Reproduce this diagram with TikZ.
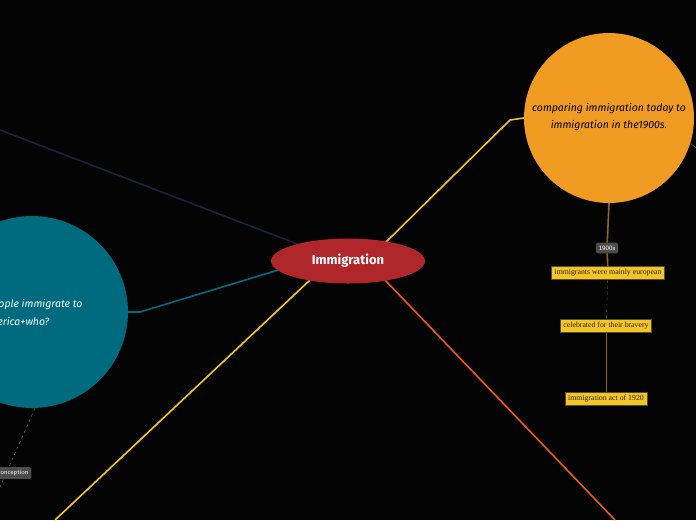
\documentclass[tikz,border=0pt]{standalone}
\usepackage{fontspec}
\usetikzlibrary{shapes.geometric}
\setmainfont{Liberation Serif}
\newfontfamily\hand{Fira Sans}
\begin{document}
\begin{tikzpicture}[x=1pt,y=-1pt,
  ybox/.style={draw=black!70,fill=yl,font=\fontsize{7.8}{9}\selectfont,inner sep=3pt,text=black!85},
  gbox/.style={fill=black!70,rounded corners=1.5pt,text=white!85,font=\sffamily\fontsize{6.5}{7}\selectfont,inner sep=3pt},
  link/.style={line width=1.6pt}]
\definecolor{bg}{HTML}{030303}
\definecolor{navy}{HTML}{1E2240}
\definecolor{tealc}{HTML}{006B7F}
\definecolor{orc}{HTML}{F09C22}
\definecolor{yl}{HTML}{F5C524}
\definecolor{redo}{HTML}{F05A0C}
\definecolor{brn}{HTML}{8B6A1E}
\definecolor{crim}{HTML}{B0272B}
\fill[bg] (0,0) rectangle (696,520);
\useasboundingbox (0,0) rectangle (696,520);
\coordinate (nw) at (0,130);
\coordinate (sw) at (55,520);
\coordinate (se) at (615,520);
\coordinate (ce) at (696,148);
\coordinate (cn) at (0,487);
\node[circle,fill=orc,minimum size=170pt,inner sep=0pt] (orange) at (609,118) {};
\node[text=black,font=\hand\itshape\fontsize{10.5}{17}\selectfont,align=center] at (609,117) {comparing immigration today to\\immigration in the1900s.};
\node[circle,fill=tealc,minimum size=192pt,inner sep=0pt] (teal) at (32,312) {};
\node[text=white,font=\hand\itshape\fontsize{10.5}{18}\selectfont,align=center] at (16,312) {Why do people immigrate to\\America+who?};
\draw[navy,link] (nw) -- (300,245);
\draw[tealc,link] (285,268) -- (140,312) -- (teal.east);
\draw[yl,link] (310,280) -- (sw);
\draw[yl,link] (385,243) -- (510,120) -- (orange.west);
\draw[redo,link] (385,280) -- (se);
\draw[black!60] (orange.east) ++(-4,25) -- (ce);
\node[ellipse,fill=crim,minimum width=154pt,minimum height=45pt,inner sep=0pt,text=white,font=\hand\bfseries\fontsize{13}{14}\selectfont] (imm) at (348,261) {Immigration};
\node[gbox] (y1900) at (607,248) {1900s};
\node[ybox] (b1) at (608,273) {immigrants were mainly european};
\node[ybox] (b2) at (606,326) {celebrated for their bravery};
\node[ybox] (b3) at (606,399) {immigration act of 1920};
\draw[brn,link] (orange.south) -- (y1900);
\draw[brn,link] (y1900) -- (b1);
\draw[brn,dashed] (b1) -- (b2);
\draw[brn] (b2) -- (b3);
\draw[black!55,dashed] (teal.south) ++(3,0) -- (cn);
\node[gbox] (conc) at (13,473) {conception};
\end{tikzpicture}
\end{document}
